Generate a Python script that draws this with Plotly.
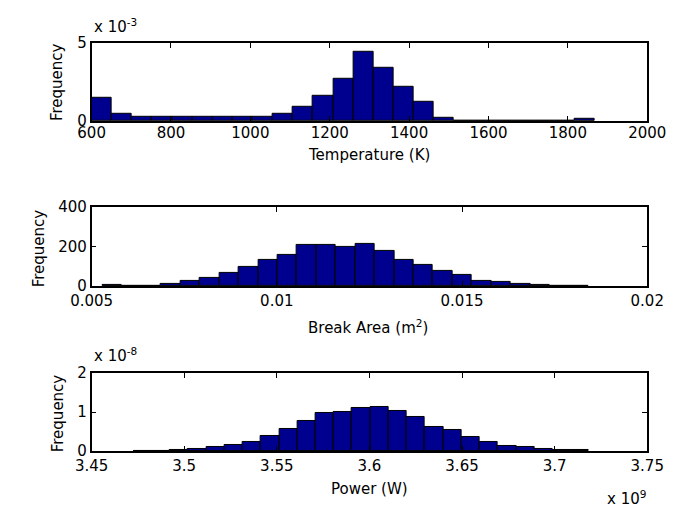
import numpy as np
import plotly.graph_objects as go

# ---- histogram data (25 equal-width bins per variable) ----
temp_range = (600.0, 1868.0)          # K
temp_density = [1.455e-3, 0.45e-3, 0.29e-3, 0.29e-3, 0.29e-3, 0.29e-3, 0.29e-3,
                0.29e-3, 0.29e-3, 0.47e-3, 0.88e-3, 1.58e-3, 2.73e-3, 4.41e-3,
                3.38e-3, 2.21e-3, 1.21e-3, 0.20e-3, 0, 0, 0, 0, 0, 0, 0.12e-3]

area_range = (0.005297, 0.018416)     # m^2
area_counts = [4, 3, 3, 12, 28, 41, 65, 95, 134, 160, 206, 206, 198, 214, 178,
               134, 106, 75, 54, 28, 19, 12, 4, 3, 3]

power_range = (3.4725e9, 3.7186e9)    # W
power_density = [0.01e-8, 0.01e-8, 0.02e-8, 0.058e-8, 0.10e-8, 0.165e-8, 0.24e-8,
                 0.40e-8, 0.57e-8, 0.765e-8, 0.97e-8, 1.00e-8, 1.10e-8, 1.14e-8,
                 1.04e-8, 0.87e-8, 0.63e-8, 0.535e-8, 0.36e-8, 0.23e-8, 0.13e-8,
                 0.10e-8, 0.058e-8, 0.03e-8, 0.025e-8]

temp_ticks = [600, 800, 1000, 1200, 1400, 1600, 1800, 2000]
area_ticks = [0.005, 0.01, 0.015, 0.02]
area_ticktext = ["0.005", "0.01", "0.015", "0.02"]
power_ticks = [3.45e9, 3.5e9, 3.55e9, 3.6e9, 3.65e9, 3.7e9, 3.75e9]
power_ticktext = ["3.45", "3.5", "3.55", "3.6", "3.65", "3.7", "3.75"]

W, H = 686, 521
FONT = "DejaVu Sans, Arial, sans-serif"
FS = 15
BAR_COLOR = "#00008F"


def bins(rng, n):
    edges = np.linspace(rng[0], rng[1], n + 1)
    return (edges[:-1] + edges[1:]) / 2, edges[1] - edges[0]


def px_x(v):
    return v / W


def px_y(v):
    return 1 - v / H


fig = go.Figure()

panels = [
    (temp_range, temp_density, "x", "y"),
    (area_range, area_counts, "x2", "y2"),
    (power_range, power_density, "x3", "y3"),
]
for rng, vals, xa, ya in panels:
    centers, width = bins(rng, len(vals))
    fig.add_trace(go.Bar(
        x=centers, y=vals, width=[width] * len(vals),
        marker=dict(color=BAR_COLOR, line=dict(color="black", width=1)),
        xaxis=xa, yaxis=ya, showlegend=False, hoverinfo="x+y",
    ))

xdom = [px_x(75), px_x(665)]
ydoms = [
    [px_y(116), px_y(35)],
    [px_y(287), px_y(205)],
    [px_y(458), px_y(377)],
]

axis_common = dict(
    showline=True, linecolor="black", linewidth=1.5, mirror="ticks",
    ticks="inside", ticklen=5, tickcolor="black", tickwidth=1,
    showgrid=False, zeroline=False,
    tickfont=dict(family=FONT, size=FS, color="black"),
)

fig.update_layout(
    width=W, height=H,
    margin=dict(l=0, r=0, t=0, b=0),
    paper_bgcolor="white", plot_bgcolor="white",
    bargap=0, showlegend=False,
    font=dict(family=FONT, size=FS, color="black"),
    xaxis=dict(domain=xdom, anchor="y", range=[600, 2000],
               tickvals=temp_ticks, ticklabelstandoff=-3, **axis_common),
    yaxis=dict(domain=ydoms[0], anchor="x", range=[0, 5e-3],
               tickvals=[0, 5e-3], ticktext=["0", "5"], **axis_common),
    xaxis2=dict(domain=xdom, anchor="y2", range=[0.005, 0.02],
                tickvals=area_ticks, ticktext=area_ticktext, **axis_common),
    yaxis2=dict(domain=ydoms[1], anchor="x2", range=[0, 400],
                tickvals=[0, 200, 400], **axis_common),
    xaxis3=dict(domain=xdom, anchor="y3", range=[3.45e9, 3.75e9],
                tickvals=power_ticks, ticktext=power_ticktext, **axis_common),
    yaxis3=dict(domain=ydoms[2], anchor="x3", range=[0, 2e-8],
                tickvals=[0, 1e-8, 2e-8], ticktext=["0", "1", "2"], **axis_common),
)

annotations = [
    # x-axis titles
    dict(text="Temperature (K)", x=px_x(370), y=px_y(151)),
    dict(text="Break Area (m<sup>2</sup>)", x=px_x(368), y=px_y(329)),
    dict(text="Power (W)", x=px_x(370), y=px_y(497)),
    # y-axis titles
    dict(text="Frequency", x=px_x(39), y=px_y(76), textangle=-90),
    dict(text="Frequency", x=px_x(20), y=px_y(248), textangle=-90),
    dict(text="Frequency", x=px_x(39), y=px_y(419), textangle=-90),
]
for a in annotations:
    fig.add_annotation(xref="paper", yref="paper", showarrow=False,
                       xanchor="center", yanchor="middle",
                       font=dict(family=FONT, size=FS, color="black"), **a)

# exponent multipliers
for text, x, y, xanchor in [
    ("x 10<sup>-3</sup>", 75, 18, "left"),
    ("x 10<sup>-8</sup>", 75, 358, "left"),
    ("x 10<sup>9</sup>", 666, 506, "right"),
]:
    fig.add_annotation(xref="paper", yref="paper", showarrow=False,
                       x=px_x(x), y=px_y(y), xanchor=xanchor, yanchor="middle",
                       text=text, font=dict(family=FONT, size=FS, color="black"))

fig.write_html("out.html")
